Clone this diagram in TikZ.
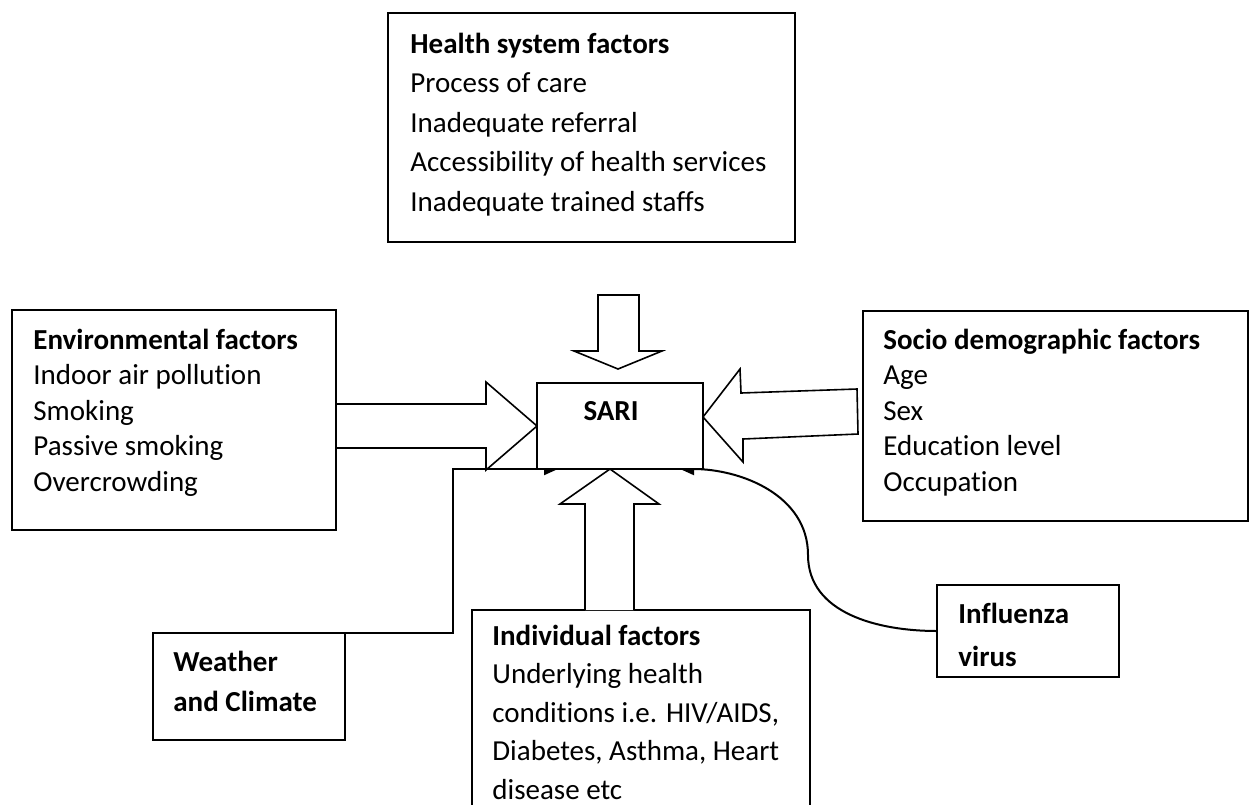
\documentclass[tikz,border=0pt]{standalone}
\usepackage{fontspec}
\setmainfont{Carlito}[Ligatures=NoCommon]
\usetikzlibrary{arrows.meta,fit}
\begin{document}
\begin{tikzpicture}[x=0.5pt,y=-0.5pt,
  box/.style={draw,line width=0.9pt,inner sep=0pt,outer sep=0pt,fill=white},
  txt/.style={anchor=base west,align=left,inner sep=0pt,font=\fontsize{14.5}{#1}\selectfont},
  blockarrow/.style={draw,line width=0.8pt,fill=white,line join=miter},
  conn/.style={draw,line width=1pt},
  tipstyle/.style={-{Triangle[length=7pt,width=6pt]}}]
\clip (0,0) rectangle (1251,804);
\fill[white] (0,0) rectangle (1251,804);

% boxes
\node[box,fit={(388,13) (795,242)}] (health) {};
\node[box,fit={(12,310) (336,530)}] (env) {};
\node[box,fit={(863,311) (1248,521)}] (socio) {};
\node[box,fit={(153,633) (345,740)}] (weather) {};
\node[box,fit={(937,585) (1119,677)}] (flu) {};
\node[box,fit={(472,610) (810,840)}] (indiv) {};

% texts (anchored at the baseline of the last line)
\node[txt=19.75] (healthtext) at (410,211) {\textbf{Health system factors}\\Process of care\\Inadequate referral\\Accessibility of health services\\Inadequate trained staffs};
\node[txt=17.75] (envtext) at (33,491) {\textbf{Environmental factors}\\Indoor air pollution\\Smoking\\Passive smoking\\Overcrowding};
\node[txt=17.75] (sociotext) at (883,491) {\textbf{Socio demographic factors}\\Age\\Sex\\Education level\\Occupation};
\node[txt=20] (weathertext) at (173,711) {\textbf{Weather}\\\textbf{and Climate}};
\node[txt=21.5] (flutext) at (958,666) {\textbf{Influenza}\\\textbf{virus}};
\node[txt=19.2] (indivtext) at (492,799) {\textbf{Individual factors}\\Underlying health\\conditions i.e. HIV/AIDS,\\Diabetes, Asthma, Heart\\disease etc};

% block arrows
\draw[blockarrow] (598,295) -- (639,295) -- (639,351) -- (662,351) -- (618,369) -- (574,351) -- (598,351) -- cycle;
\draw[blockarrow] (336,404) -- (486,404) -- (486,382) -- (537,426) -- (486,470) -- (486,448) -- (336,448) -- cycle;
\draw[blockarrow] (857,389) -- (741,393) -- (740,369) -- (703,417) -- (743,462) -- (743,439) -- (858,434) -- cycle;
\draw[blockarrow] (585,610) -- (585,504) -- (560,504) -- (610,469) -- (659,504) -- (634,504) -- (634,610);

% connectors
\coordinate (wbend) at (453,469);
\coordinate (wtip) at (558,469);
\coordinate (fmid) at (808,555);
\coordinate (ftip) at (680,469);
\draw[conn,tipstyle] (weather.north east) -| (wbend) -- (wtip);
\draw[conn,tipstyle] (flu.west) to[out=180,in=-90] (fmid) to[out=90,in=0] (ftip);

% SARI
\node[box,fit={(537,383) (703,469)}] (sari) {};
\node[anchor=base,inner sep=0pt,font=\fontsize{14.5}{17}\selectfont\bfseries] (saritext) at (611,420) {SARI};
\end{tikzpicture}
\end{document}
